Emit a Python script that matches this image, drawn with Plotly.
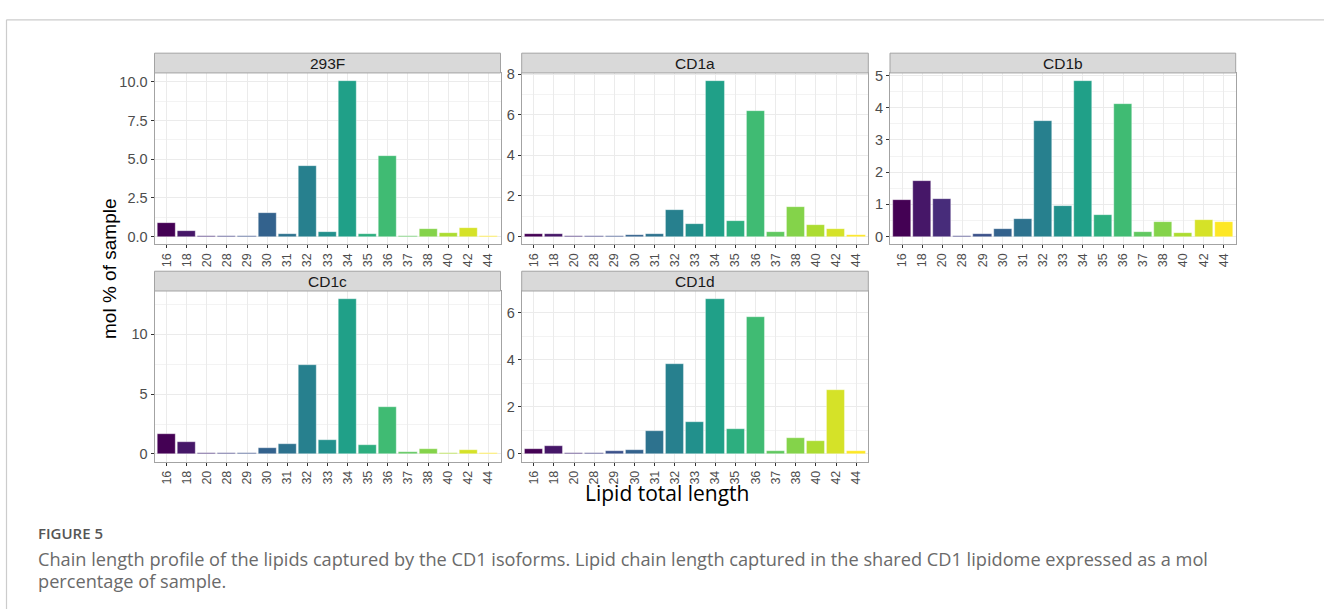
import plotly.graph_objects as go
from plotly.colors import sample_colorscale

# ---------------- data ----------------
lengths = ["16", "18", "20", "28", "29", "30", "31", "32", "33", "34",
           "35", "36", "37", "38", "40", "42", "44"]

panels = ["293F", "CD1a", "CD1b", "CD1c", "CD1d"]

v_293F = [0.85, 0.34, 0.06, 0.04, 0.04, 1.53, 0.15, 4.56, 0.28, 10.08,
          0.15, 5.18, 0.04, 0.51, 0.21, 0.55, 0.04]
v_CD1a = [0.10, 0.13, 0.05, 0.03, 0.03, 0.06, 0.13, 1.31, 0.61, 7.68,
          0.76, 6.21, 0.21, 1.48, 0.58, 0.39, 0.08]
v_CD1b = [1.15, 1.72, 1.17, 0.03, 0.07, 0.22, 0.54, 3.58, 0.96, 4.84,
          0.68, 4.13, 0.13, 0.45, 0.11, 0.50, 0.46]
v_CD1c = [1.69, 1.04, 0.11, 0.05, 0.08, 0.49, 0.82, 7.46, 1.20, 12.98,
          0.79, 3.91, 0.14, 0.41, 0.08, 0.36, 0.05]
v_CD1d = [0.22, 0.32, 0.06, 0.03, 0.11, 0.18, 0.96, 3.82, 1.35, 6.60,
          1.08, 5.81, 0.13, 0.69, 0.53, 2.71, 0.11]

values = [v_293F, v_CD1a, v_CD1b, v_CD1c, v_CD1d]

ytick_vals = [[0, 2.5, 5, 7.5, 10], [0, 2, 4, 6, 8], [0, 1, 2, 3, 4, 5],
              [0, 5, 10], [0, 2, 4, 6]]
ytick_text = [["0.0", "2.5", "5.0", "7.5", "10.0"], ["0", "2", "4", "6", "8"],
              ["0", "1", "2", "3", "4", "5"], ["0", "5", "10"], ["0", "2", "4", "6"]]
minor_dticks = [1.25, 1, 0.5, 2.5, 1]

y_title = "mol % of sample"
x_title = "Lipid total length"
fig_label = "FIGURE 5"
caption_1 = ("Chain length profile of the lipids captured by the CD1 isoforms. "
             "Lipid chain length captured in the shared CD1 lipidome expressed as a mol")
caption_2 = "percentage of sample."

# ---------------- layout helpers ----------------
W, H = 1328, 609


def px(x):
    return x / W


def py(y):
    return 1 - y / H


cols = [(154.5, 500.5), (521.7, 868.3), (890.0, 1235.7)]
rows = [(66.7, 240.0), (287.3, 460.0)]
strip_h = 20
positions = [(0, 0), (0, 1), (0, 2), (1, 0), (1, 1)]

colors = sample_colorscale("Viridis", [i / (len(lengths) - 1) for i in range(len(lengths))])

border = "#a3a3a3"
grid = "#ebebeb"

fig = go.Figure()
shapes = []
annotations = []
layout = {}

for i, (name, vals) in enumerate(zip(panels, values)):
    r, c = positions[i]
    x0, x1 = cols[c]
    y0, y1 = rows[r]
    k = "" if i == 0 else str(i + 1)
    fig.add_trace(go.Bar(
        x=lengths, y=vals, width=0.9,
        marker=dict(color=colors, line=dict(color="rgba(255,255,255,0.7)", width=0.5)),
        xaxis="x" + k, yaxis="y" + k, showlegend=False, hoverinfo="x+y",
    ))
    m = max(vals)
    layout["xaxis" + k] = dict(
        domain=[px(x0), px(x1)], anchor="y" + k, type="category",
        categoryorder="array", categoryarray=lengths,
        range=[-0.6, len(lengths) - 0.4],
        showgrid=True, gridcolor=grid, gridwidth=1,
        showline=True, mirror=True, linecolor=border, linewidth=1,
        ticks="outside", ticklen=3, tickcolor="#333333", tickwidth=1,
        tickangle=-90, tickfont=dict(family="Liberation Sans, Arial", size=12.5, color="#4d4d4d"),
        zeroline=False, fixedrange=True,
    )
    layout["yaxis" + k] = dict(
        domain=[py(y1), py(y0)], anchor="x" + k,
        range=[-0.05 * m, 1.05 * m],
        tickmode="array", tickvals=ytick_vals[i], ticktext=ytick_text[i],
        showgrid=True, gridcolor=grid, gridwidth=1,
        minor=dict(dtick=minor_dticks[i], tick0=0, showgrid=True, gridcolor="#f3f3f3", gridwidth=1),
        showline=True, mirror=True, linecolor=border, linewidth=1,
        ticks="outside", ticklen=3, tickcolor="#333333", tickwidth=1,
        tickfont=dict(family="Liberation Sans, Arial", size=14.5, color="#4d4d4d"),
        zeroline=False, fixedrange=True,
    )
    # strip
    shapes.append(dict(type="rect", xref="paper", yref="paper",
                       x0=px(x0), x1=px(x1), y0=py(y0), y1=py(y0 - strip_h),
                       fillcolor="#d9d9d9", line=dict(color=border, width=1), layer="above"))
    annotations.append(dict(text=name, xref="paper", yref="paper",
                            x=px((x0 + x1) / 2), y=py(y0 - strip_h / 2),
                            xanchor="center", yanchor="middle", showarrow=False,
                            font=dict(family="Liberation Sans, Arial", size=15.5, color="#1a1a1a")))

# outer frame lines
shapes.append(dict(type="line", xref="paper", yref="paper", x0=px(6.5), x1=px(1324),
                   y0=py(13), y1=py(13), line=dict(color="#cccccc", width=1.2)))
shapes.append(dict(type="line", xref="paper", yref="paper", x0=px(6.5), x1=px(6.5),
                   y0=py(13), y1=0, line=dict(color="#cccccc", width=1.2)))

annotations += [
    dict(text=y_title, xref="paper", yref="paper", x=px(110), y=py(265), textangle=-90,
         xanchor="center", yanchor="middle", showarrow=False,
         font=dict(family="Liberation Sans, Arial", size=19, color="#000000")),
    dict(text=x_title, xref="paper", yref="paper", x=px(667), y=py(492),
         xanchor="center", yanchor="middle", showarrow=False,
         font=dict(family="Open Sans", size=21, color="#000000")),
    dict(text=fig_label, xref="paper", yref="paper", x=px(36), y=py(532),
         xanchor="left", yanchor="middle", showarrow=False,
         font=dict(family="Open Sans", size=15, color="#555555", weight=600)),
    dict(text=caption_1, xref="paper", yref="paper", x=px(36), y=py(558),
         xanchor="left", yanchor="middle", showarrow=False,
         font=dict(family="Open Sans", size=18.2, color="#6a6a6a")),
    dict(text=caption_2, xref="paper", yref="paper", x=px(36), y=py(581),
         xanchor="left", yanchor="middle", showarrow=False,
         font=dict(family="Open Sans", size=18.2, color="#6a6a6a")),
]

fig.update_layout(
    width=W, height=H, margin=dict(l=0, r=0, t=0, b=0),
    paper_bgcolor="white", plot_bgcolor="white",
    shapes=shapes, annotations=annotations, bargap=0,
    **layout,
)

fig.write_html("out.html", config={"displayModeBar": False},
               post_script="document.body.style.margin='0';document.body.style.overflow='hidden';")
